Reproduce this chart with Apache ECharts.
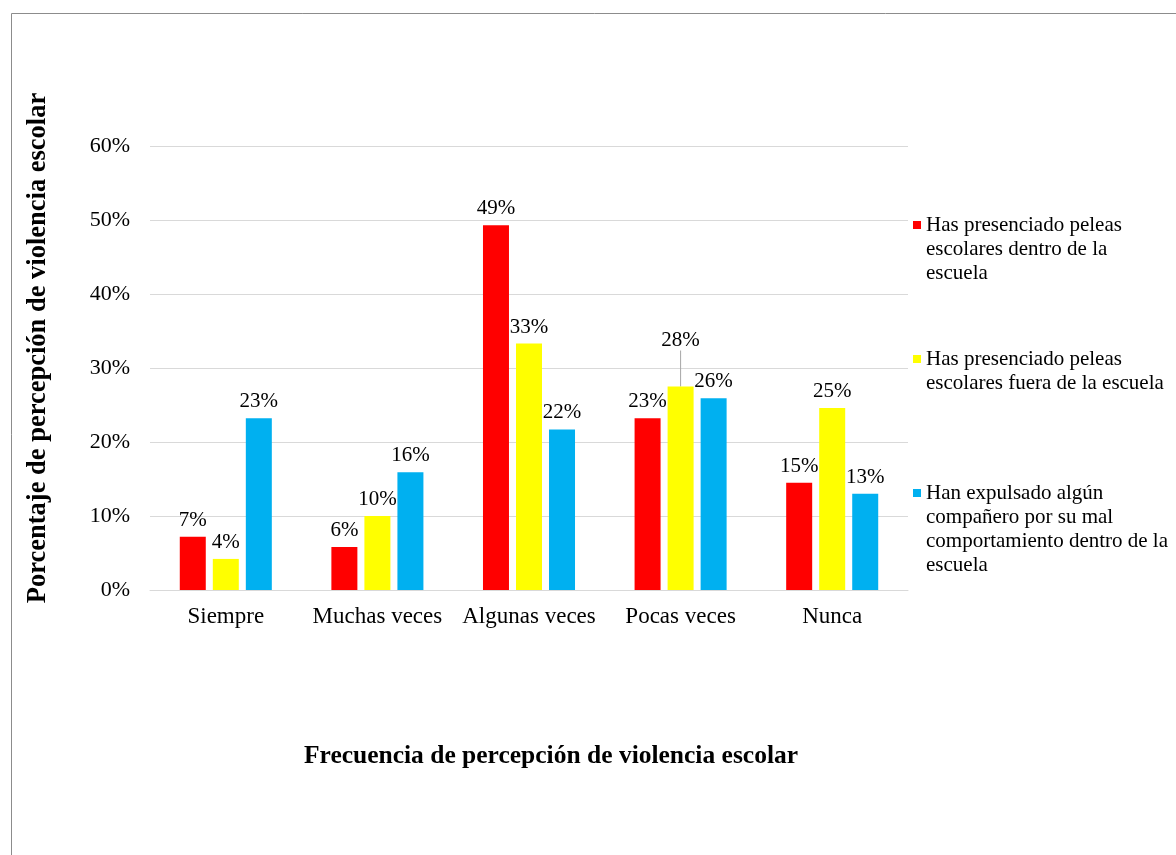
<!DOCTYPE html>
<html>
<head>
<meta charset="utf-8">
<script src="https://cdn.jsdelivr.net/npm/echarts@6/dist/echarts.min.js"></script>
<style>
  html, body { margin: 0; padding: 0; background: #fff; }
  #chart { width: 1176px; height: 855px; }
</style>
</head>
<body>
<div id="chart"></div>
<script>
// categorias del eje x
const categories = ['Siempre', 'Muchas veces', 'Algunas veces', 'Pocas veces', 'Nunca']
// nombres de las series (con saltos de linea como en la leyenda original)
const seriesNames = [
  'Has presenciado peleas\nescolares dentro de la\nescuela',
  'Has presenciado peleas\nescolares fuera de la escuela',
  'Han expulsado algún\ncompañero por su mal\ncomportamiento dentro de la\nescuela'
]
// valores en %
const dentro = [7.2, 5.8, 49.3, 23.2, 14.5]
const fuera = [4.2, 10.0, 33.3, 27.5, 24.6]
const expulsado = [23.2, 15.9, 21.7, 25.9, 13.0]
const yTicks = [0, 10, 20, 30, 40, 50, 60]

// etiqueta desplazada con linea guia (serie amarilla, 'Pocas veces')
const movedLabelIndex = 3

const colors = ['#FF0000', '#FFFF00', '#00B0F0']
const font = '"Liberation Serif", "Times New Roman", serif'

const labelCfg = {
  show: true,
  position: 'top',
  distance: 6,
  fontFamily: font,
  fontSize: 21,
  color: '#000',
  formatter: p => Math.round(p.value) + '%'
}

function makeSeries (name, data, idx) {
  return {
    name: name,
    type: 'bar',
    data: data,
    barWidth: 26,
    barGap: '27%',
    itemStyle: { color: colors[idx] },
    label: labelCfg
  }
}

const series = [
  makeSeries(seriesNames[0], dentro, 0),
  makeSeries(seriesNames[1], fuera.map((v, i) => i === movedLabelIndex
    ? { value: v, labelLine: { show: true, lineStyle: { color: '#a6a6a6', width: 1 } } }
    : v), 1),
  makeSeries(seriesNames[2], expulsado, 2)
]
series[1].labelLayout = function (p) {
  if (p.dataIndex === movedLabelIndex) return { dy: -30 }
}

// leyenda: una por serie, icono alineado con la primera linea
// (se anteponen lineas vacias para que el icono quede en la primera)
const legendTops = [165, 323, 409]
const legends = seriesNames.map((n, i) => ({
  data: [n],
  orient: 'vertical',
  left: 913,
  top: legendTops[i],
  padding: 0,
  itemWidth: 8,
  itemHeight: 8,
  icon: 'rect',
  selectedMode: false,
  formatter: name => '\n'.repeat(name.split('\n').length - 1) + name,
  textStyle: { fontFamily: font, fontSize: 21, lineHeight: 24, color: '#000' }
}))

const option = {
  animation: false,
  backgroundColor: '#fff',
  color: colors,
  graphic: [{
    type: 'rect',
    shape: { x: 11.5, y: 13.5, width: 1300, height: 1000 },
    style: { fill: 'none', stroke: '#8c8c8c', lineWidth: 1 },
    silent: true
  }],
  legend: legends,
  grid: { left: 150, right: 268, top: 146, bottom: 265 },
  xAxis: {
    type: 'category',
    data: categories,
    axisTick: { show: false },
    axisLine: { lineStyle: { color: '#d9d9d9', width: 1 } },
    axisLabel: { interval: 0, fontFamily: font, fontSize: 23, color: '#000', margin: 15 },
    name: 'Frecuencia de percepción de violencia escolar',
    nameLocation: 'middle',
    nameGap: 153,
    nameTextStyle: { fontFamily: font, fontSize: 25.5, fontWeight: 'bold', color: '#000', padding: [0, 0, 0, 44] }
  },
  yAxis: {
    type: 'value',
    min: yTicks[0],
    max: yTicks[yTicks.length - 1],
    interval: 10,
    axisLine: { show: false },
    axisTick: { show: false },
    splitLine: { lineStyle: { color: '#d9d9d9', width: 1 } },
    axisLabel: { fontFamily: font, fontSize: 22, color: '#000', margin: 20, formatter: '{value}%' },
    name: 'Porcentaje de percepción de violencia escolar',
    nameLocation: 'middle',
    nameRotate: 90,
    nameGap: 98,
    nameTextStyle: { fontFamily: font, fontSize: 26.5, fontWeight: 'bold', color: '#000', padding: [0, 0, 0, 40] }
  },
  series: series
}

const dom = echarts.init(document.getElementById('chart'))
dom.setOption(option)
window.addEventListener('resize', () => dom.resize())
</script>
</body>
</html>
